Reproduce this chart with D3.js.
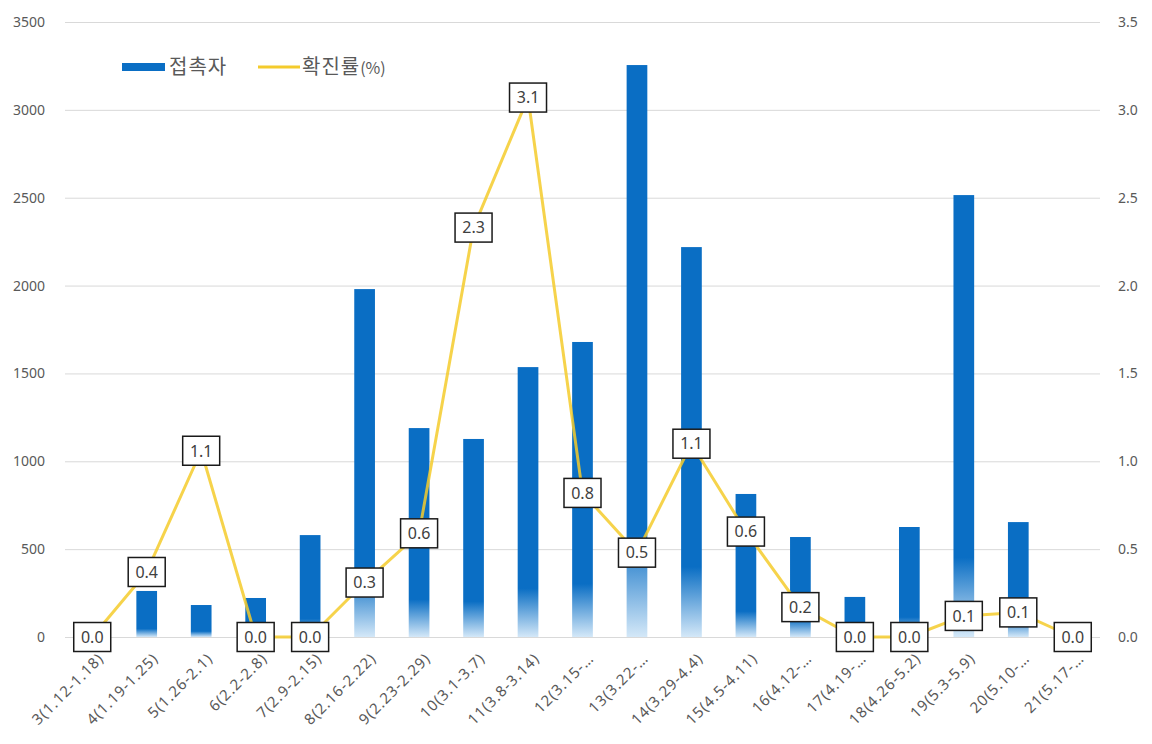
<!DOCTYPE html>
<html>
<head>
<meta charset="utf-8"/>
<script src="https://cdn.jsdelivr.net/npm/d3@7/dist/d3.min.js"></script>
<style>
  body { margin: 0; background: #fff; }
  text { font-family: "Noto Sans", "Noto Sans CJK KR", sans-serif; }
</style>
</head>
<body>
<script>
// weekly data
var weeks = ["3(1.12-1.18)", "4(1.19-1.25)", "5(1.26-2.1)", "6(2.2-2.8)", "7(2.9-2.15)",
  "8(2.16-2.22)", "9(2.23-2.29)", "10(3.1-3.7)", "11(3.8-3.14)", "12(3.15-…",
  "13(3.22-…", "14(3.29-4.4)", "15(4.5-4.11)", "16(4.12-…", "17(4.19-…",
  "18(4.26-5.2)", "19(5.3-5.9)", "20(5.10-…", "21(5.17-…"];
var contacts = [0, 262, 182, 222, 580, 1980, 1189, 1127, 1536, 1679, 3255, 2219, 814, 569, 228, 626, 2515, 654, 0];
var rate = [0, 0.37, 1.06, 0, 0, 0.31, 0.59, 2.33, 3.07, 0.82, 0.48, 1.1, 0.6, 0.17, 0, 0, 0.12, 0.14, 0];
var leftTicks = [0, 500, 1000, 1500, 2000, 2500, 3000, 3500];
var rightTicks = [0, 0.5, 1, 1.5, 2, 2.5, 3, 3.5];

var width = 1152, height = 744;
var x0 = 65, x1 = 1100, yTop = 22, yBot = 637;
var blue = "#0a6ec4", gold = "#f4cb2c", grey = "#595959";

var svg = d3.select("body").append("svg").attr("width", width).attr("height", height);

var x = d3.scaleBand().domain(weeks).range([x0, x1]).paddingInner(0.62).paddingOuter(0.31);
var yL = d3.scaleLinear().domain([0, 3500]).range([yBot, yTop]);
var yR = d3.scaleLinear().domain([0, 3.5]).range([yBot, yTop]);

var defs = svg.append("defs");
var grad = defs.append("linearGradient").attr("id", "barfade")
  .attr("x1", 0).attr("y1", 0).attr("x2", 0).attr("y2", 1);
grad.append("stop").attr("offset", "0").attr("stop-color", blue);
grad.append("stop").attr("offset", "0.82").attr("stop-color", blue);
grad.append("stop").attr("offset", "1").attr("stop-color", "#d4e8f8");

// gridlines
svg.append("g").selectAll("line").data(leftTicks).enter().append("line")
  .attr("x1", x0).attr("x2", x1)
  .attr("y1", function(d) { return yL(d) + 0.5; })
  .attr("y2", function(d) { return yL(d) + 0.5; })
  .attr("stroke", "#d9d9d9").attr("stroke-width", 1);

// left axis
var axL = svg.append("g").attr("transform", "translate(" + x0 + ",0)")
  .call(d3.axisLeft(yL).tickValues(leftTicks).tickSize(0).tickPadding(20).tickFormat(d3.format("d")));
axL.select(".domain").remove();
axL.selectAll("text").attr("fill", grey).style("font-size", "14px");

// right axis
var axR = svg.append("g").attr("transform", "translate(" + x1 + ",0)")
  .call(d3.axisRight(yR).tickValues(rightTicks).tickSize(0).tickPadding(18).tickFormat(d3.format(".1f")));
axR.select(".domain").remove();
axR.selectAll("text").attr("fill", grey).style("font-size", "14px");

// bars
svg.append("g").selectAll("rect").data(contacts).enter().append("rect")
  .attr("x", function(d, i) { return x(weeks[i]); })
  .attr("width", x.bandwidth())
  .attr("y", function(d) { return yL(d); })
  .attr("height", function(d) { return yBot - yL(d); })
  .attr("fill", "url(#barfade)");

// line
var cx = function(i) { return x(weeks[i]) + x.bandwidth() / 2; };
var line = d3.line().x(function(d, i) { return cx(i); }).y(function(d) { return yR(d); });
svg.append("path").datum(rate).attr("d", line)
  .attr("fill", "none").attr("stroke", gold).attr("stroke-width", 3)
  .attr("stroke-opacity", 0.85).attr("stroke-linejoin", "round");

// data labels
var lab = svg.append("g").selectAll("g").data(rate).enter().append("g")
  .attr("transform", function(d, i) { return "translate(" + cx(i) + "," + yR(d) + ")"; });
lab.append("rect").attr("x", -18.5).attr("y", -14.5).attr("width", 37).attr("height", 29)
  .attr("fill", "#fff").attr("stroke", "#1a1a1a").attr("stroke-width", 1.5);
lab.append("text").attr("text-anchor", "middle").attr("dy", "0.36em")
  .attr("fill", "#404040").style("font-size", "16px")
  .text(function(d) { return d.toFixed(1); });

// x labels
svg.append("g").selectAll("text").data(weeks).enter().append("text")
  .attr("transform", function(d, i) { return "translate(" + (cx(i) + 5) + ",652) rotate(-45)"; })
  .attr("text-anchor", "end").attr("dy", "0.7em")
  .attr("fill", grey).style("font-size", "15px").style("letter-spacing", "1px")
  .text(function(d) { return d; });

// legend
var lg = svg.append("g");
lg.append("rect").attr("x", 122).attr("y", 63).attr("width", 43).attr("height", 8).attr("fill", blue);
lg.append("text").attr("x", 169).attr("y", 67).attr("dy", "0.36em").attr("fill", grey)
  .style("font-size", "20px").style("letter-spacing", "1px")
  .style("font-family", "'Noto Sans CJK KR'").text("접촉자");
lg.append("line").attr("x1", 258).attr("x2", 300).attr("y1", 67).attr("y2", 67)
  .attr("stroke", gold).attr("stroke-width", 3);
var lt = lg.append("text").attr("x", 302).attr("y", 67).attr("dy", "0.36em").attr("fill", grey)
  .style("font-size", "20px").style("letter-spacing", "1px")
  .style("font-family", "'Noto Sans CJK KR'");
lt.append("tspan").text("확진률");
lt.append("tspan").style("font-size", "16px").style("letter-spacing", "0px").text("(%)");
</script>
</body>
</html>
